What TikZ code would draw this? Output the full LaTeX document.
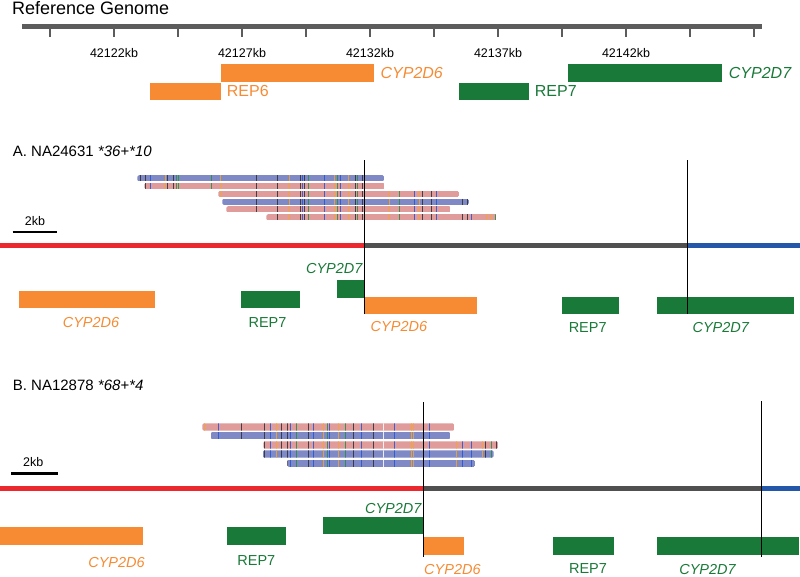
\documentclass[tikz,border=0pt]{standalone}
\usepackage{fontspec}
\setmainfont{Liberation Sans}
\usepackage{xcolor}
\usetikzlibrary{positioning}

\definecolor{geneor}{RGB}{246,139,51}
\definecolor{genegr}{RGB}{25,121,56}
\definecolor{readbl}{RGB}{126,137,198}
\definecolor{readpk}{RGB}{224,155,155}
\definecolor{snpk}{RGB}{45,45,55}
\definecolor{snpb}{RGB}{35,85,215}
\definecolor{snpo}{RGB}{245,165,45}
\definecolor{snpg}{RGB}{40,140,65}
\definecolor{lnred}{RGB}{234,40,45}
\definecolor{lngray}{RGB}{80,80,80}
\definecolor{lnblue}{RGB}{36,86,170}
\definecolor{refgray}{RGB}{92,92,92}

\newcommand{\snpA}{140/snpk,145/snpk,150/snpb,165/snpo,167.7/snpk,173.3/snpk,176/snpg,178.7/snpg,211.7/snpg,220/snpo,256/snpk,277.7/snpk,289.3/snpo,300/snpk,302.3/snpb,304.7/snpk,308.3/snpg,324.3/snpb,334.3/snpo,337.3/snpg,340/snpb,348.3/snpo,355.3/snpk,357.3/snpg,362.3/snpk,389.3/snpo,399.3/snpg,414.3/snpb,419/snpo,422.7/snpk,431.7/snpk,436/snpb,462.3/snpk,467.7/snpk,471.7/snpb,486.7/snpo,490/snpo,495.7/snpg}
\newcommand{\snpB}{204/snpo,218.3/snpb,241.7/snpk,264.3/snpk,270.7/snpb,276.3/snpo,281.7/snpk,287.7/snpk,290/snpb,296.3/snpg,308.3/snpk,313.3/snpb,323.3/snpo,327.7/snpg,329.7/snpb,338.3/snpo,345.7/snpg,353/snpk,361.7/snpb,373.7/snpk,383.3/white,394/snpb,411.7/snpo,413.3/snpo,429.3/snpb,456/snpo,462.7/snpb,471.7/snpb,482.3/snpo,485/snpk,491.7/snpg,496/snpk}

\begin{document}
\begin{tikzpicture}[x=1pt,y=-1pt,
  gene/.style={inner sep=0pt,anchor=north west,minimum height=17.5pt},
  lab/.style={inner sep=0pt,font=\fontsize{14.5}{16}\selectfont},
  toplab/.style={inner sep=0pt,font=\fontsize{16}{18}\selectfont},
  ticklab/.style={inner sep=0pt,font=\fontsize{12.5}{14}\selectfont},
  brk/.style={black,line width=0.9pt},
  hap/.style={line width=4.5pt}]
  \useasboundingbox (0,0) rectangle (800,576);

  % reference genome
  \node[inner sep=0pt,anchor=west,font=\fontsize{18}{20}\selectfont] (reftitle) at (12,8.1) {Reference Genome};
  \draw[refgray,line width=4.5pt] (22,26.7) -- (761.7,26.7);
  \foreach \t in {0,...,11}
    \draw[refgray,line width=1.1pt] (50+64*\t,26.7) -- (50+64*\t,37);
  \foreach \t/\kb in {1/42122,3/42127,5/42132,7/42137,9/42142}
    \node[ticklab] (tick\kb) at (50+64*\t,52.7) {\kb kb};
  \node[gene,fill=geneor,minimum width=153.7] (refcypsix) at (220.3,64) {};
  \node[gene,fill=geneor,minimum width=70.3,minimum height=16.6] (refrepsix) at (150,82.7) {};
  \node[gene,fill=genegr,minimum width=70,minimum height=16.6] (refrepsev) at (458.3,82.7) {};
  \node[gene,fill=genegr,minimum width=153.6] (refcypsev) at (567.7,64) {};
  \node[toplab,geneor,right=6pt of refcypsix] (lrefcypsix) {\itshape CYP2D6};
  \node[toplab,geneor,right=6pt of refrepsix] (lrefrepsix) {REP6};
  \node[toplab,genegr,right=6pt of refrepsev] (lrefrepsev) {REP7};
  \node[toplab,genegr,right=7pt of refcypsev] (lrefcypsev) {\itshape CYP2D7};

  % A. NA24631
  \node[lab,anchor=west,font=\fontsize{15}{17}\selectfont] (titleA) at (12.7,151.7) {A. NA24631 \itshape *36+*10};
  \foreach \y/\l/\r/\c in {178.3/137.3/384/readbl,186/144.3/384.7/readpk,194/218.3/459.3/readpk,
      201.7/222.3/469/readbl,209.3/226.3/450.7/readpk,217.3/266.3/496.7/readpk}{
    \begin{scope}
      \clip[rounded corners=1.5pt] (\l,\y-3.1) rectangle (\r,\y+3.1);
      \fill[\c] (\l,\y-3.1) rectangle (\r,\y+3.1);
      \foreach \p/\k in \snpA {\draw[\k,line width=1pt,opacity=0.85] (\p,\y-3.1) -- (\p,\y+3.1);}
    \end{scope}
  }
  \draw[black,line width=2.6pt] (12.7,232) -- (57.3,232);
  \node[ticklab] (scaleA) at (35,221) {2kb};
  \draw[hap,lnred] (0,245.5) -- (364,245.5);
  \draw[hap,lngray] (364,245.5) -- (687.3,245.5);
  \draw[hap,lnblue] (687.3,245.5) -- (800,245.5);
  \node[gene,fill=geneor,minimum width=136] (aCypSixL) at (18.3,290.7) {};
  \node[gene,fill=genegr,minimum width=59] (aRepSevL) at (241,290.7) {};
  \node[gene,fill=genegr,minimum width=27.3,minimum height=17.3] (aCypSevS) at (336.7,280) {};
  \node[gene,fill=geneor,minimum width=113] (aCypSixR) at (364,296.7) {};
  \node[gene,fill=genegr,minimum width=57.7] (aRepSevR) at (561.3,296.7) {};
  \node[gene,fill=genegr,minimum width=136.6] (aCypSevR) at (656.7,296.7) {};
  \node[lab,geneor] (laCypSixL) at (91,322.3) {\itshape CYP2D6};
  \node[lab,genegr] (laRepSevL) at (267.5,322.3) {REP7};
  \node[lab,genegr,anchor=east] (laCypSevS) at (362.7,269) {\itshape CYP2D7};
  \node[lab,geneor,anchor=west] (laCypSixR) at (370.5,326.7) {\itshape CYP2D6};
  \node[lab,genegr] (laRepSevR) at (587.7,327.7) {REP7};
  \node[lab,genegr] (laCypSevR) at (720.8,327.7) {\itshape CYP2D7};
  \coordinate (aBrkOneTop) at (364,160);
  \coordinate (aBrkOneBot) at (364,314.3);
  \coordinate (aBrkTwoTop) at (687.3,160);
  \coordinate (aBrkTwoBot) at (687.3,314.3);
  \draw[brk] (aBrkOneTop) -- (aBrkOneBot);
  \draw[brk] (aBrkTwoTop) -- (aBrkTwoBot);

  % B. NA12878
  \node[lab,anchor=west,font=\fontsize{15}{17}\selectfont] (titleB) at (12.7,385) {B. NA12878 \itshape *68+*4};
  \foreach \y/\l/\r/\c in {427/202.3/454.3/readpk,435.7/210.7/450.3/readbl,445/263.3/498.3/readpk,
      454/262.7/493.7/readbl,463.3/287.3/475/readbl}{
    \begin{scope}
      \clip[rounded corners=1.5pt] (\l,\y-3.7) rectangle (\r,\y+3.7);
      \fill[\c] (\l,\y-3.7) rectangle (\r,\y+3.7);
      \foreach \p/\k in \snpB {\draw[\k,line width=1pt,opacity=0.85] (\p,\y-3.7) -- (\p,\y+3.7);}
    \end{scope}
  }
  \draw[black,line width=2.6pt] (11,473.7) -- (58.3,473.7);
  \node[ticklab] (scaleB) at (33.3,461.7) {2kb};
  \draw[hap,lnred] (0,488.3) -- (423.7,488.3);
  \draw[hap,lngray] (423.7,488.3) -- (761.3,488.3);
  \draw[hap,lnblue] (761.3,488.3) -- (800,488.3);
  \node[gene,fill=geneor,minimum width=142.3,minimum height=17.3] (bCypSixL) at (0,527) {};
  \node[gene,fill=genegr,minimum width=59,minimum height=17.3] (bRepSevL) at (226.7,527) {};
  \node[gene,fill=genegr,minimum width=101,minimum height=17.3] (bCypSevU) at (322.7,516.7) {};
  \node[gene,fill=geneor,minimum width=39.6,minimum height=17.3] (bCypSixR) at (423.7,537) {};
  \node[gene,fill=genegr,minimum width=60.3,minimum height=17.3] (bRepSevR) at (553,537) {};
  \node[gene,fill=genegr,minimum width=142,minimum height=17.3] (bCypSevR) at (656.7,537) {};
  \node[lab,geneor] (lbCypSixL) at (116.5,562.7) {\itshape CYP2D6};
  \node[lab,genegr] (lbRepSevL) at (256.3,561) {REP7};
  \node[lab,genegr,anchor=east] (lbCypSevU) at (421.7,508.3) {\itshape CYP2D7};
  \node[lab,geneor,anchor=west] (lbCypSixR) at (424,569) {\itshape CYP2D6};
  \node[lab,genegr] (lbRepSevR) at (588,569) {REP7};
  \node[lab,genegr] (lbCypSevR) at (707.5,569) {\itshape CYP2D7};
  \coordinate (bBrkOneTop) at (423.7,402);
  \coordinate (bBrkOneBot) at (423.7,556.7);
  \coordinate (bBrkTwoTop) at (761.3,401);
  \coordinate (bBrkTwoBot) at (761.3,556.7);
  \draw[brk] (bBrkOneTop) -- (bBrkOneBot);
  \draw[brk] (bBrkTwoTop) -- (bBrkTwoBot);
\end{tikzpicture}
\end{document}
